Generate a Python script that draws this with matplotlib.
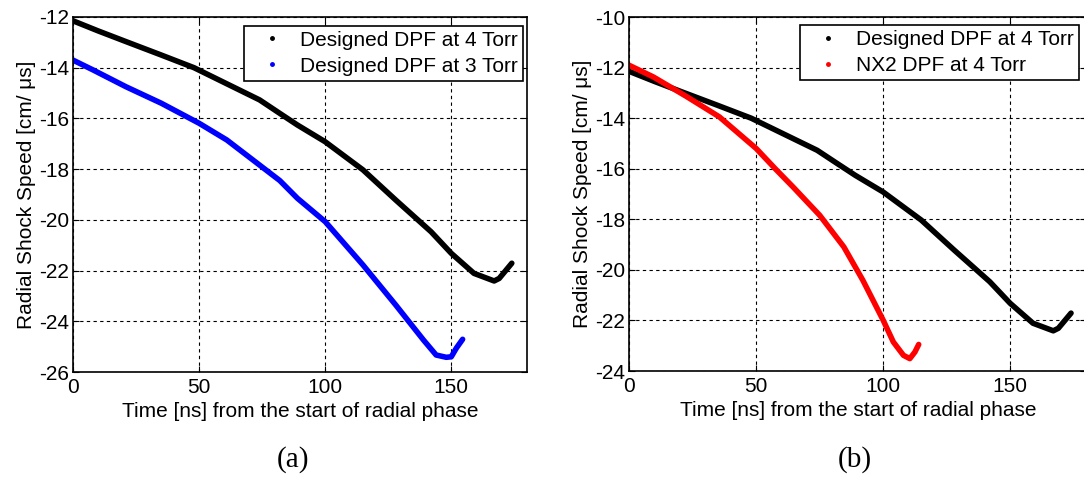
import numpy as np
import matplotlib
matplotlib.use('Agg')
import matplotlib.pyplot as plt

plt.rcParams['font.family'] = ['Liberation Sans', 'DejaVu Sans']

# -----------------------------------------------------------------------------
# values
t_4torr = [0, 10, 21, 35, 48, 74, 82, 89, 100, 115, 128, 142, 150, 159, 167,
           169, 174]
v_4torr = [-12.15, -12.55, -12.97, -13.5, -14.0, -15.27, -15.8, -16.26,
           -16.92, -18.03, -19.22, -20.47, -21.32, -22.11, -22.41, -22.31,
           -21.71]

t_3torr = [0, 8, 21, 35, 50, 61, 74, 82, 89, 100, 115, 128, 139, 144, 148,
           150, 152, 154.5]
v_3torr = [-13.70, -14.09, -14.75, -15.40, -16.19, -16.85, -17.84, -18.45,
           -19.15, -20.07, -21.78, -23.36, -24.74, -25.33, -25.42, -25.4,
           -25.06, -24.71]

t_nx2 = [0, 9.5, 22.5, 35.5, 50, 57.5, 64.5, 75, 84.5, 92, 100, 104, 108,
         110.5, 112.5, 114]
v_nx2 = [-11.91, -12.37, -13.14, -13.95, -15.2, -16.0, -16.72, -17.84,
         -19.09, -20.41, -21.99, -22.85, -23.38, -23.51, -23.25, -22.95]

xticks = [0, 50, 100, 150]

# -----------------------------------------------------------------------------
fig = plt.figure(figsize=(10.84, 4.98), dpi=100)
ax1 = fig.add_axes([0.0673, 0.253, 0.4188, 0.7129])
ax2 = fig.add_axes([0.5805, 0.255, 0.4216, 0.7108])


def style(ax, ylim, yticks):
    ax.set_xlim(0, 180)
    ax.set_ylim(*ylim)
    ax.set_xticks(xticks)
    ax.set_yticks(yticks)
    ax.set_yticklabels([str(v) for v in yticks])
    ax.tick_params(axis='both', which='both', direction='in', length=4,
                   labelsize=15, top=True, right=True)
    ax.tick_params(axis='x', pad=4)
    ax.tick_params(axis='y', pad=3)
    ax.grid(True, color='black', linestyle=(0, (3, 3)), linewidth=0.8)
    for s in ax.spines.values():
        s.set_linewidth(1.2)
    ax.set_xlabel('Time [ns] from the start of radial phase', fontsize=15,
                  labelpad=4)
    ax.set_ylabel('Radial Shock Speed [cm/ \u03bcs]', fontsize=15, labelpad=2)


def draw(ax, t, v, color, label):
    ax.plot(t, v, color=color, linewidth=4, solid_capstyle='round',
            solid_joinstyle='round')
    ax.plot([], [], '.', color=color, markersize=5, label=label)


# (a)
draw(ax1, t_4torr, v_4torr, 'black', 'Designed DPF at 4 Torr')
draw(ax1, t_3torr, v_3torr, '#0000ff', 'Designed DPF at 3 Torr')
style(ax1, (-26, -12), list(range(-26, -11, 2)))

# (b)
draw(ax2, t_4torr, v_4torr, 'black', 'Designed DPF at 4 Torr')
draw(ax2, t_nx2, v_nx2, '#ff0000', 'NX2 DPF at 4 Torr')
style(ax2, (-24, -10), list(range(-24, -9, 2)))

# legend boxes placed where the reference has them (figure fractions)
for ax, anchor in ((ax1, (523 / 1084, 1 - 25.7 / 498)),
                   (ax2, (1079 / 1084, 1 - 25 / 498))):
    leg = ax.legend(loc='upper right', bbox_to_anchor=anchor,
                    bbox_transform=fig.transFigure, borderaxespad=0,
                    fontsize=15, fancybox=False, framealpha=1,
                    edgecolor='black', borderpad=0.24, handlelength=2.2,
                    handletextpad=0.25, labelspacing=0.34)
    leg.get_frame().set_linewidth(1.2)

fig.text(0.27, 0.077, '(a)', fontsize=21, family='Liberation Serif',
         ha='center', va='center')
fig.text(0.789, 0.077, '(b)', fontsize=21, family='Liberation Serif',
         ha='center', va='center')

fig.savefig('out.png', dpi=100)
